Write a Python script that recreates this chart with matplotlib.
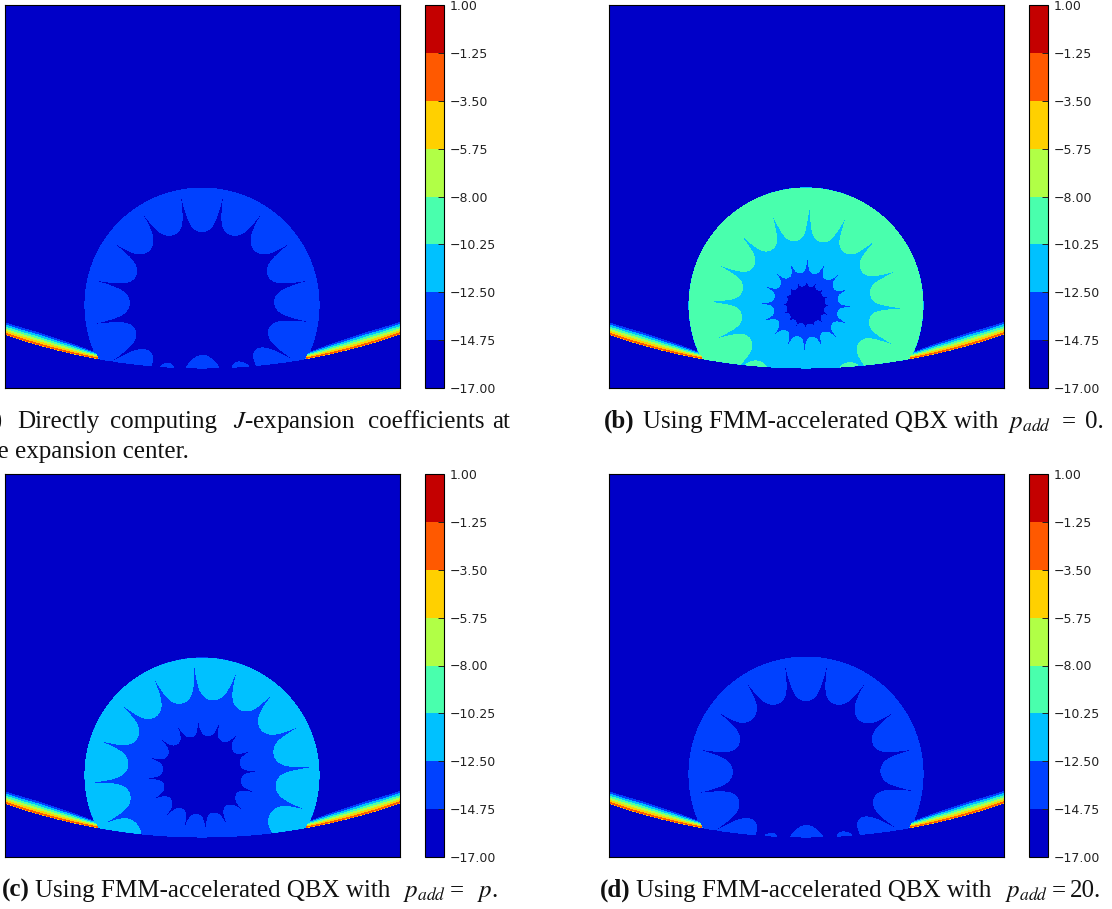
import matplotlib
matplotlib.use('Agg')
import matplotlib.pyplot as plt
import numpy as np

W, H = 1112, 909
plt.rcParams['font.family'] = ['DejaVu Sans']
plt.rcParams['mathtext.fontset'] = 'stix'

# Colour levels of the contour plots
levels = [-17.0, -14.75, -12.5, -10.25, -8.0, -5.75, -3.5, -1.25, 1.0]

# Geometry of the error plots, in plot pixels
grid_w, grid_h = 395, 383
center_x, radius = 197, 117
center_y = {'a': 300, 'b': 300, 'c': 301, 'd': 300}
bowl_bottom, bowl_curve = 363, 8.7e-4
background = -16.0

# Thickness of the coloured layer along the bowl, by distance from the centre
wedge_reach = [105, 112, 130, 164, 197]
wedge_thick = [6.5, 7.5, 11.0, 14.0, 13.5]

# Cusp angles of each ring (degrees clockwise from straight up)
cusps_a = [-161, -143, -122, -100, -77, -55, -33, -11, 11, 33, 55, 77, 99, 121, 140, 160]
cusps_b = [-155.5, -133, -110.5, -88, -65.5, -43, -20.5, 2, 24.5, 47, 69.5, 92, 114.5, 137, 159.5, 182]
cusps_c = [-161.5, -139, -116.5, -94, -71.5, -49, -26.5, -4, 18.5, 41, 63.5, 86, 108.5, 131, 153.5, 176]

# Relative radius of each lobe tip, one per gap between cusps
tips_a = [.57, .60, .61, .62, .62, .65, .65, .627, .65, .65, .62, .62, .61, .60, .57, .43]
tips_d = [.58, .60, .62, .63, .63, .66, .65, .627, .65, .65, .63, .64, .62, .60, .58, .44]
tips_b1 = [.62, .56, .56, .56, .56, .56, .56, .56, .56, .56, .56, .56, .56, .60, 1.5, 1.5]
tips_b2 = [.28] * 16
tips_b3 = [.165] * 16
tips_c1 = [1.5, .70, .64, .64, .64, .64, .64, .65, .65, .64, .64, .64, .675, 1.5, 1.5, 1.5]
tips_c2 = [.34] * 16

# Each panel: rings from inside out as (cusps, tips, outer radius, value outside, cusp sharpness)
panels = {
    'a': [(cusps_a, tips_a, .99, -14.0, 15)],
    'b': [(cusps_b, tips_b3, .23, -13.5, 6), (cusps_b, tips_b2, .42, -11.5, 6), (cusps_b, tips_b1, .86, -9.0, 8)],
    'c': [(cusps_c, tips_c2, .53, -13.5, 12), (cusps_c, tips_c1, .99, -11.5, 15)],
    'd': [(cusps_a, tips_d, .99, -14.0, 15)],
}

# Caption pieces: (text, x px, baseline y px, bold)
captions = [
    ('(a)', -26, 428, True), ('Directly', 17, 428, False), ('computing', 110, 428, False),
    ('$J$-expansion', 233, 428, False), ('coefficients', 368, 428, False), ('at', 492, 428, False),
    ('the', -21, 458, False), ('expansion center.', 15, 458, False),
    ('(b)', 604, 428, True), ('Using FMM-accelerated QBX with', 643, 428, False),
    (r'$p_{add}$', 1008, 428, False), ('=', 1062, 428, False), ('0.', 1085, 428, False),
    ('(c)', 2, 897, True), ('Using FMM-accelerated QBX with', 35, 897, False),
    (r'$p_{add}$', 403, 897, False), ('=', 450, 897, False), ('$p$.', 477, 897, False),
    ('(d)', 600, 897, True), ('Using FMM-accelerated QBX with', 636, 897, False),
    (r'$p_{add}$', 1005, 897, False), ('=', 1052, 897, False), ('20.', 1070, 897, False),
]


def error_field(rings, cy):
    x = np.linspace(0, grid_w, grid_w * 3)
    y = np.linspace(0, grid_h, grid_h * 3)
    X, Y = np.meshgrid(x, y)
    dx = X - center_x
    r = np.hypot(dx, Y - cy) / radius
    t = np.degrees(np.arctan2(dx, cy - Y))

    Z = np.full(X.shape, background)
    for cusps, tips, outer, value, sharp in rings:
        c = np.array(cusps + [cusps[0] + 360.0])
        tw = (t - c[0]) % 360 + c[0]
        k = np.clip(np.searchsorted(c, tw, side='right') - 1, 0, len(tips) - 1)
        u = np.abs(2 * tw - c[k] - c[k + 1]) / (c[k + 1] - c[k])
        f = .27 * u ** 2 + .33 * u ** 6 + .4 * u ** sharp
        tip = np.array(tips)[k]
        edge = tip + (outer - tip) * f
        Z[r > edge] = value

    # everything is cut by the circle and the bowl underneath
    curve = bowl_bottom - bowl_curve * dx ** 2
    Z[r > 1] = background
    Z[Y > curve] = background

    # thin layers along the bowl on both sides of the disk
    reach = np.abs(dx)
    w = np.interp(reach, wedge_reach, wedge_thick)
    depth = curve - Y
    wedge = (reach > 103) & (r > 1) & (depth > 0) & (depth < w)
    Z[wedge] = -2.5 - 14.5 * depth[wedge] / w[wedge]
    return x, y, Z


def add_panel(fig, name, left, top):
    ax = fig.add_axes([left / W, 1 - (top + grid_h) / H, grid_w / W, grid_h / H])
    x, y, Z = error_field(panels[name], center_y[name])
    cs = ax.contourf(x, y, Z, levels=levels, cmap='jet')
    ax.set_xlim(0, grid_w)
    ax.set_ylim(grid_h, 0)
    ax.set_xticks([])
    ax.set_yticks([])

    cax = fig.add_axes([(left + 420) / W, 1 - (top + grid_h) / H, 19 / W, grid_h / H])
    cb = fig.colorbar(cs, cax=cax, ticks=levels,
                      format=lambda v, pos: f'{v:.2f}'.replace('-', '\u2212'))
    cb.ax.tick_params(labelsize=9, direction='in', length=4, width=0.7, pad=4, colors='#222222')


fig = plt.figure(figsize=(W / 100, H / 100), dpi=100)
add_panel(fig, 'a', 5, 5)
add_panel(fig, 'b', 609, 5)
add_panel(fig, 'c', 5, 474)
add_panel(fig, 'd', 609, 474)

for text, px, py, bold in captions:
    fig.text(px / W, 1 - py / H, text, family='Liberation Serif', fontsize=18,
             weight='bold' if bold else 'normal', va='baseline', color='#111111')

fig.savefig('out.png', dpi=100)
